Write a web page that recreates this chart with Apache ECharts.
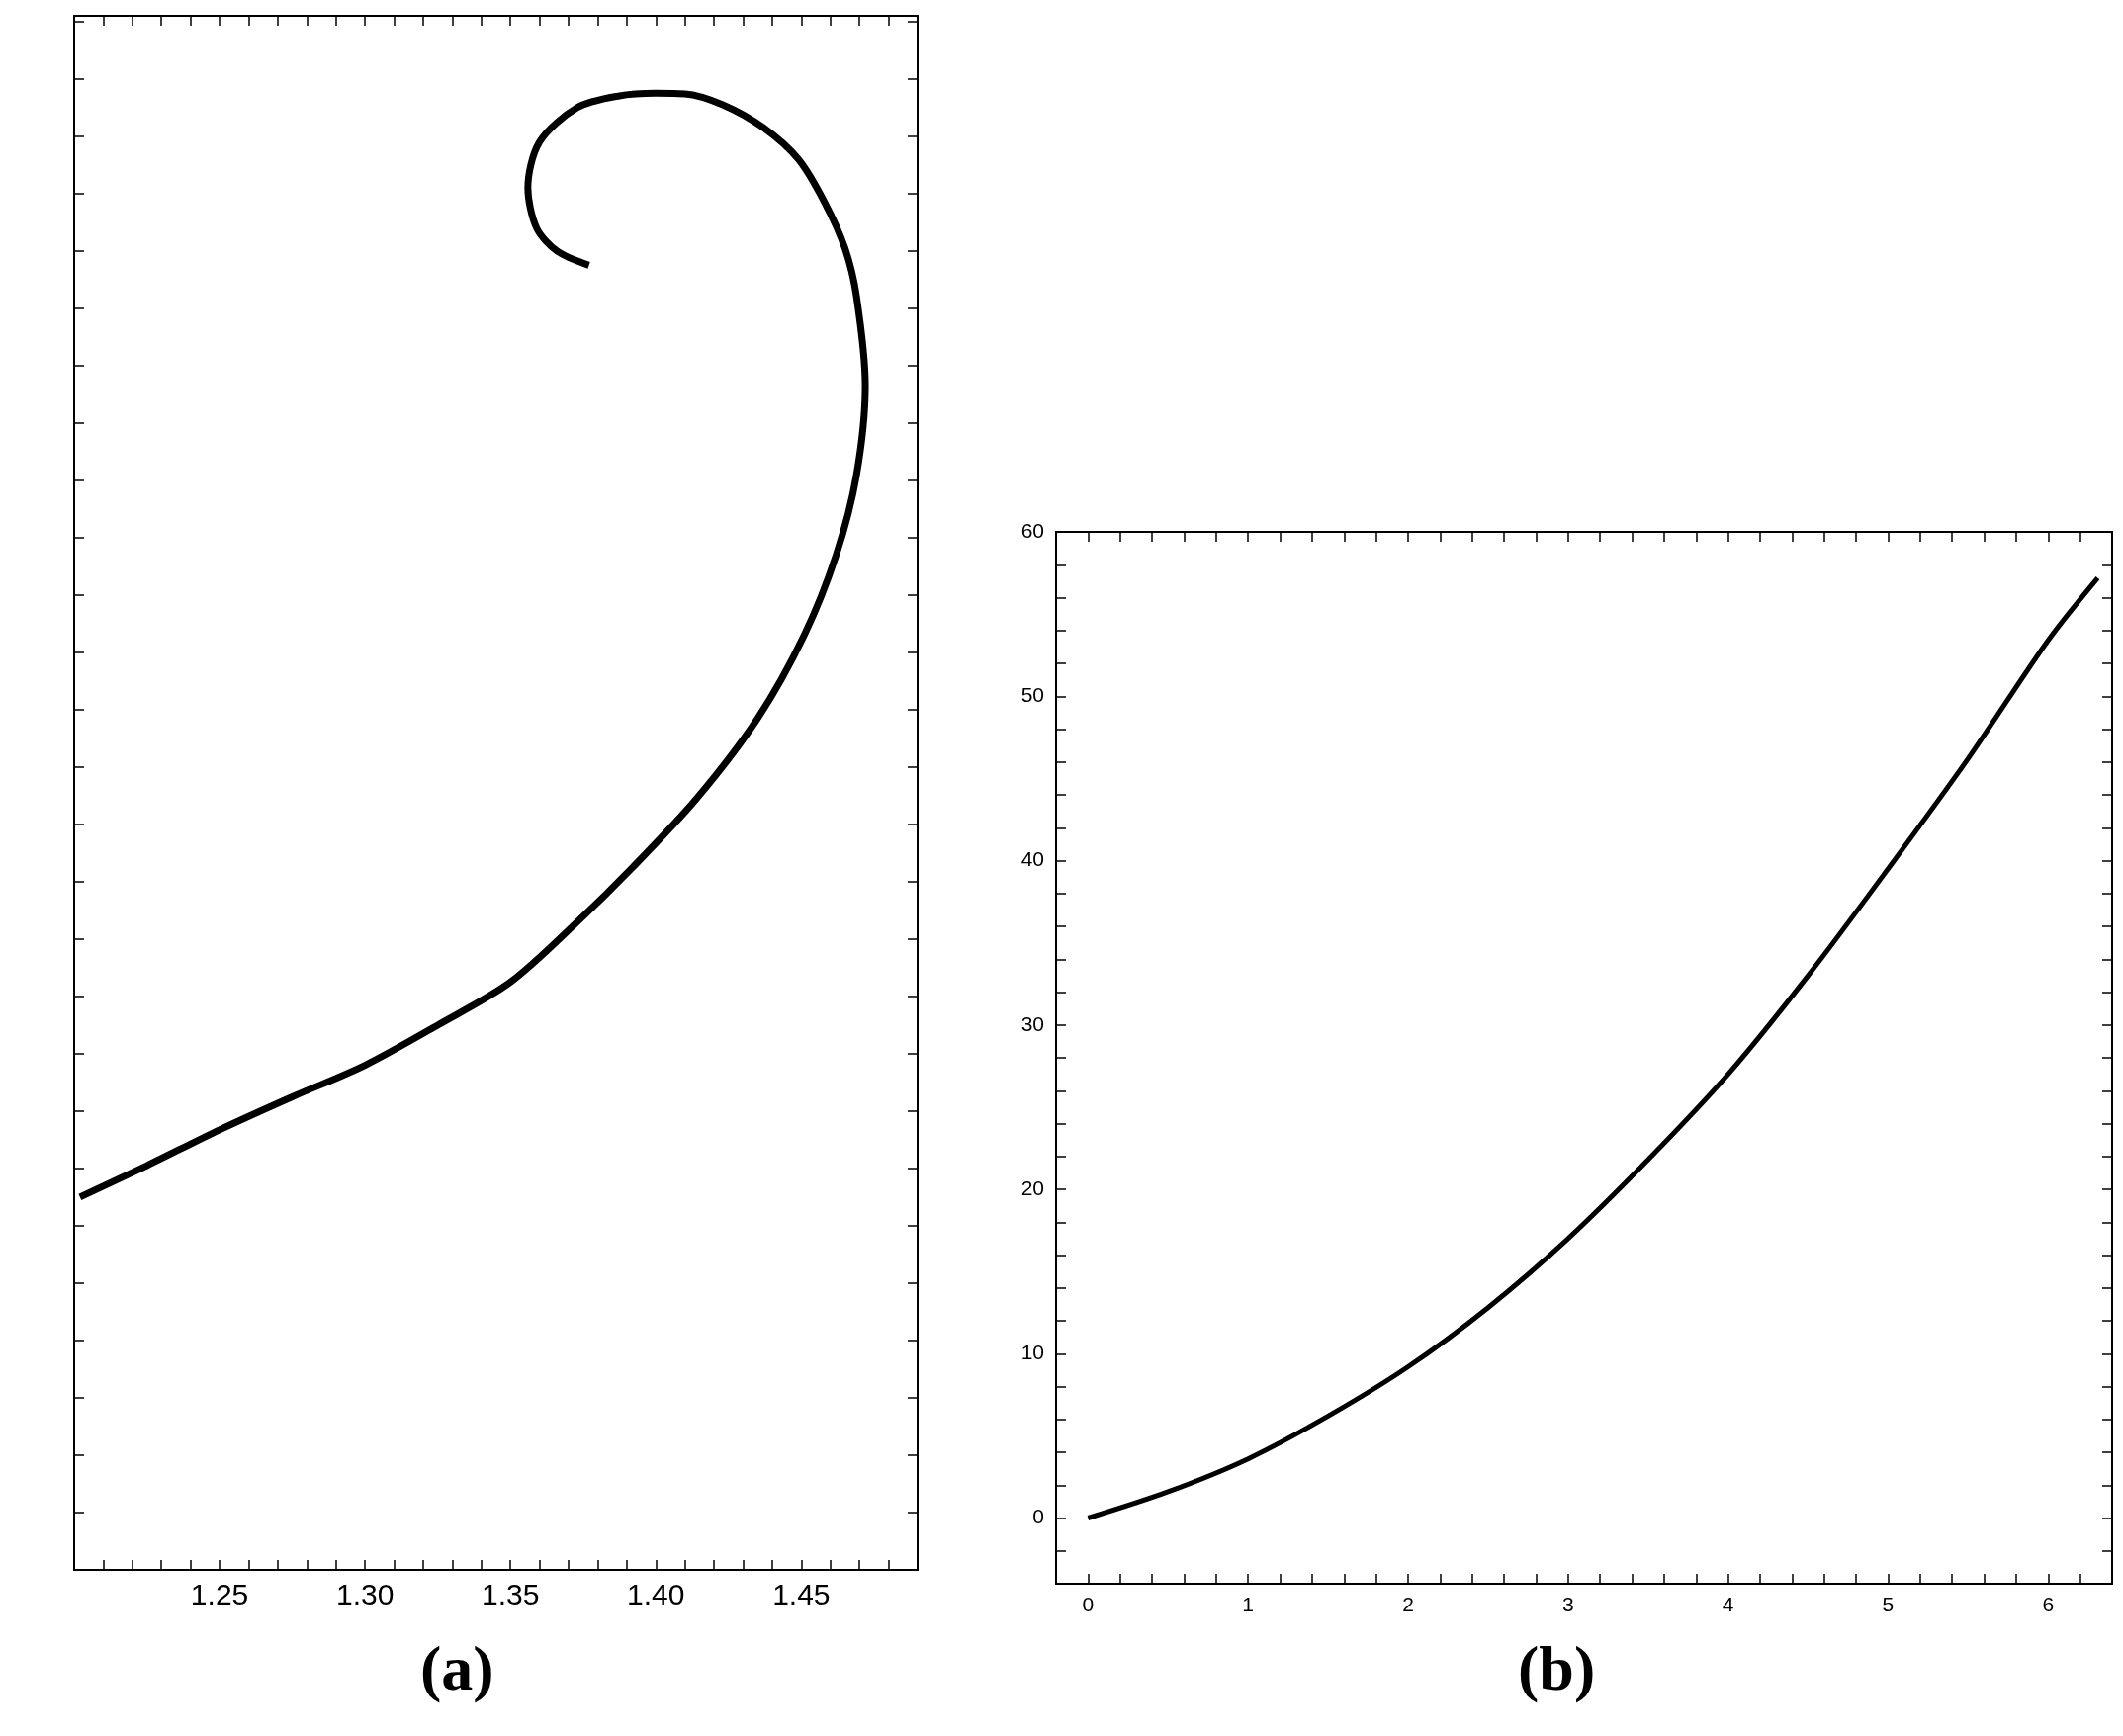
<!DOCTYPE html>
<html>
<head>
<meta charset="utf-8">
<script src="https://cdn.jsdelivr.net/npm/echarts@6/dist/echarts.min.js"></script>
<style>html,body{margin:0;padding:0;background:#fff}#main{width:2147px;height:1756px}</style>
</head>
<body>
<div id="main"></div>
<script>
// panel (a): parametric curve
var curveA = [
  [1.202, 0.104], [1.225, 0.115], [1.250, 0.1275], [1.275, 0.139], [1.300, 0.150],
  [1.325, 0.164], [1.350, 0.179], [1.373, 0.200], [1.392, 0.219], [1.414, 0.243],
  [1.435, 0.271], [1.451, 0.300], [1.462, 0.328], [1.469, 0.356], [1.472, 0.387],
  [1.469, 0.418], [1.465, 0.435], [1.458, 0.451], [1.449, 0.466], [1.437, 0.477],
  [1.423, 0.485], [1.410, 0.4888], [1.400, 0.489], [1.387, 0.488], [1.373, 0.484],
  [1.360, 0.472], [1.356, 0.456], [1.359, 0.442], [1.366, 0.434], [1.377, 0.429]
];
// panel (b): rising curve
var curveB = [
  [0, 0], [0.5, 1.6], [1, 3.6], [1.5, 6.2], [2, 9.2], [2.5, 12.8], [3, 17],
  [3.5, 21.8], [4, 27], [4.5, 33], [5, 39.5], [5.5, 46.2], [6, 53.4], [6.31, 57.2]
];

var font = 'Liberation Sans';
function ax(opt, show, pos, size, fmt, showMax) {
  var base = {
    type: 'value', position: pos, scale: true,
    axisLine: {show: true, onZero: false, lineStyle: {color: '#000', width: 2}},
    axisTick: {show: true, inside: true, length: 10, lineStyle: {color: '#000', width: 1.5}},
    splitLine: {show: false},
    axisLabel: {show: show, color: '#000', fontSize: size, fontFamily: font, margin: 12,
      showMinLabel: false, showMaxLabel: !!showMax, formatter: fmt}
  };
  return Object.assign(base, opt);
}
function every(step, dec) {
  return function (v) {
    var r = Math.round(v / step);
    return Math.abs(v - r * step) < 1e-6 ? (r * step).toFixed(dec) : '';
  };
}

var myChart = echarts.init(document.getElementById('main'));
var option = {
  animation: false,
  grid: [
    {left: 75, top: 16, width: 853, height: 1572},
    {left: 1068, top: 538, width: 1068, height: 1064}
  ],
  xAxis: [
    ax({gridIndex: 0, min: 1.2, max: 1.49, interval: 0.01}, true, 'bottom', 30, every(0.05, 2)),
    ax({gridIndex: 0, min: 1.2, max: 1.49, interval: 0.01}, false, 'top', 30),
    ax({gridIndex: 1, min: -0.2, max: 6.4, interval: 0.2}, true, 'bottom', 21, every(1, 0)),
    ax({gridIndex: 1, min: -0.2, max: 6.4, interval: 0.2}, false, 'top', 21)
  ],
  yAxis: [
    ax({gridIndex: 0, min: -0.026, max: 0.516, interval: 0.02}, true, 'left', 30, every(0.1, 1)),
    ax({gridIndex: 0, min: -0.026, max: 0.516, interval: 0.02}, false, 'right', 30),
    ax({gridIndex: 1, min: -4, max: 60, interval: 2}, true, 'left', 21, every(10, 0), true),
    ax({gridIndex: 1, min: -4, max: 60, interval: 2}, false, 'right', 21)
  ],
  series: [
    {type: 'line', xAxisIndex: 0, yAxisIndex: 0, data: curveA, smooth: 0.3, showSymbol: false,
      lineStyle: {color: '#000', width: 7}},
    {type: 'line', xAxisIndex: 2, yAxisIndex: 2, data: curveB, smooth: 0.3, showSymbol: false,
      lineStyle: {color: '#000', width: 5}}
  ],
  graphic: [
    {type: 'text', left: 425, top: 1660, style: {text: '(a)', font: 'bold 64px "Liberation Serif"', fill: '#000'}},
    {type: 'text', left: 1535, top: 1660, style: {text: '(b)', font: 'bold 64px "Liberation Serif"', fill: '#000'}}
  ]
};
myChart.setOption(option);
</script>
</body>
</html>
